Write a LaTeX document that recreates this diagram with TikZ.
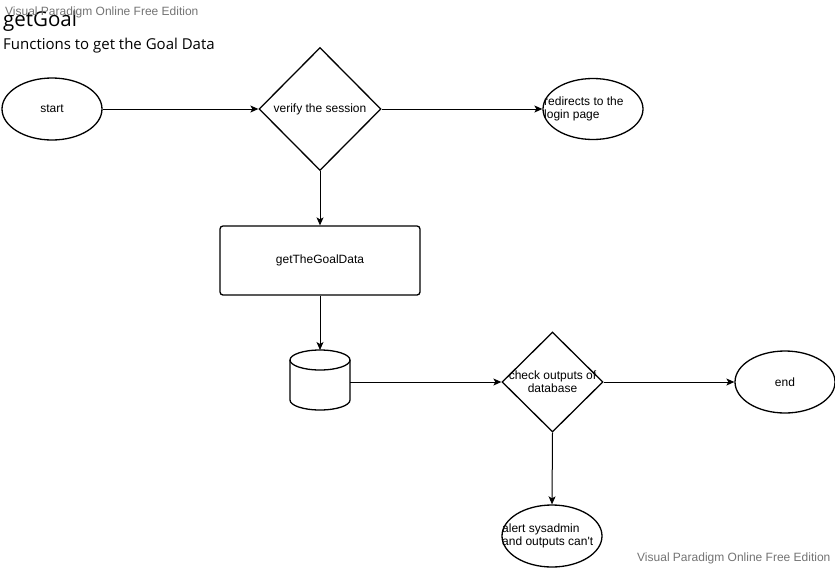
\documentclass[tikz,border=0pt]{standalone}
\usepackage{fontspec}
\setmainfont{Liberation Sans}
\newfontfamily\titlefont{Open Sans}
\usetikzlibrary{shapes.geometric,arrows.meta}
\begin{document}
\begin{tikzpicture}[x=1pt,y=-1pt,
  shp/.style={draw=black,line width=1.3pt,font=\fontsize{12}{14}\selectfont,inner sep=0pt},
  ell/.style={shp,ellipse,minimum width=100pt,minimum height=62pt},
  dia/.style={shp,diamond,aspect=1},
  lbl/.style={inner sep=0pt,font=\fontsize{12}{14}\selectfont},
  conn/.style={line width=1pt,-{Stealth[length=8pt,width=7pt,inset=2pt]}},
  wm/.style={text=black!55,font=\fontsize{12}{14}\selectfont,inner sep=0pt,anchor=west}]
\useasboundingbox (0,0) rectangle (835,568);
\node[anchor=west,inner sep=0pt,font=\titlefont\fontsize{20.5}{22}\selectfont] (title) at (3,21) {getGoal};
\node[anchor=west,inner sep=0pt,font=\titlefont\fontsize{15}{17}\selectfont] (sub) at (3,46) {Functions to get the Goal Data};
\node[wm] (wm1) at (5,12) {Visual Paradigm Online Free Edition};
\node[wm] (wm2) at (637,558) {Visual Paradigm Online Free Edition};

\node[ell] (start) at (52,109) {start};
\node[dia,minimum width=122pt,minimum height=123pt] (verify) at (320,109) {};
\node[lbl] (verifyt) at (320,109) {verify the session};
\node[ell,minimum height=61pt] (redir) at (593,109) {};
\node[lbl,anchor=west,align=left] (redirt) at (544,109) {redirects to the\\[-1pt]login page};
\node[shp,rectangle,rounded corners=3pt,minimum width=200pt,minimum height=69pt] (get) at (320,260.5) {getTheGoalData};
\draw[line width=1.3pt] (290,360) -- (290,400) arc[start angle=180,end angle=0,x radius=30,y radius=10] -- (350,360);
\draw[line width=1.3pt] (320,360) ellipse[x radius=30,y radius=10];
\coordinate (cylT) at (320,350);
\coordinate (cylR) at (350,382);
\node[dia,minimum width=101pt,minimum height=100pt] (check) at (552.5,382) {};
\node[lbl,align=center] (checkt) at (552.5,382) {check outputs of\\[-1pt]database};
\node[ell] (end) at (785,382) {end};
\node[ell] (alert) at (552,536) {};
\node[lbl,anchor=west,align=left] (alertt) at (502,536) {alert sysadmin\\[-1pt]and outputs can\textquotesingle t};

\draw[conn] (start) -- (verify.west);
\draw[conn] (verify.east) -- (redir.west);
\draw[conn] (verify.south) -- (get.north);
\draw[conn] (get.south) -- (cylT);
\draw[conn] (cylR) -- (check.west);
\draw[conn] (check.east) -- (end.west);
\draw[conn] (check.south) -- (alert.north);
\end{tikzpicture}
\end{document}
